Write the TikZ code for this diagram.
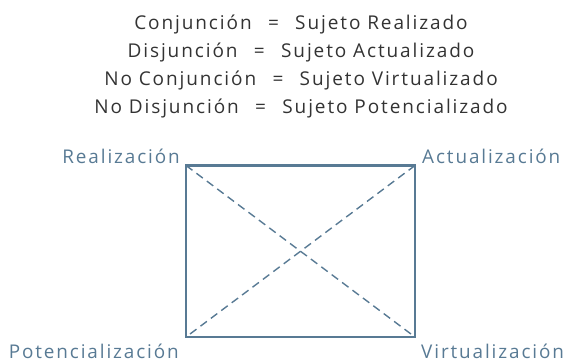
\documentclass[tikz,border=0pt]{standalone}
\usepackage{fontspec}
\setmainfont{Open Sans}
\newfontfamily\widefont[LetterSpace=10]{Open Sans}
\usepackage{xcolor}
\usetikzlibrary{positioning}

\definecolor{slateblue}{RGB}{88,122,148}
\definecolor{darktext}{RGB}{51,51,51}

\begin{document}
\begin{tikzpicture}[
  x=1pt, y=-1pt,
  eqline/.style={
    anchor=base,
    inner sep=0pt,
    text=darktext,
    font=\widefont\fontsize{19}{22}\selectfont
  },
  corner/.style={
    inner sep=0pt,
    text=slateblue,
    font=\widefont\fontsize{18.9}{20}\selectfont
  },
  frame/.style={
    draw=slateblue,
    line width=2.8pt
  },
  diag/.style={
    draw=slateblue,
    line width=1.4pt,
    dash pattern=on 8pt off 5pt
  }
]

\useasboundingbox (0,0) rectangle (564,362);

\node [eqline] (conj) at (301,29) {Conjunción\enspace\ =\ \enspace Sujeto Realizado};
\node [eqline] (disj) at (301,57) {Disjunción\enspace\ =\ \enspace Sujeto Actualizado};
\node [eqline] (noconj) at (301,85) {No Conjunción\enspace\ =\ \enspace Sujeto Virtualizado};
\node [eqline] (nodisj) at (301,113) {No Disjunción\enspace\ =\ \enspace Sujeto Potencializado};

\coordinate (tl) at (186,165.5);
\coordinate (tr) at (415,165.5);
\coordinate (br) at (415,337);
\coordinate (bl) at (186,337);

\draw [diag] (tl) -- (br);
\draw [diag] (tr) -- (bl);
\draw [frame] (tl) -- (tr) -- (br) -- (bl) -- cycle;

\node [corner, anchor=base east] (real) at (180,163) {Realización};
\node [corner, anchor=base west] (actu) at (422,163) {Actualización};
\node [corner, anchor=base east] (pote) at (179,358) {Potencialización};
\node [corner, anchor=base west] (virt) at (421,358) {Virtualización};

\end{tikzpicture}
\end{document}
